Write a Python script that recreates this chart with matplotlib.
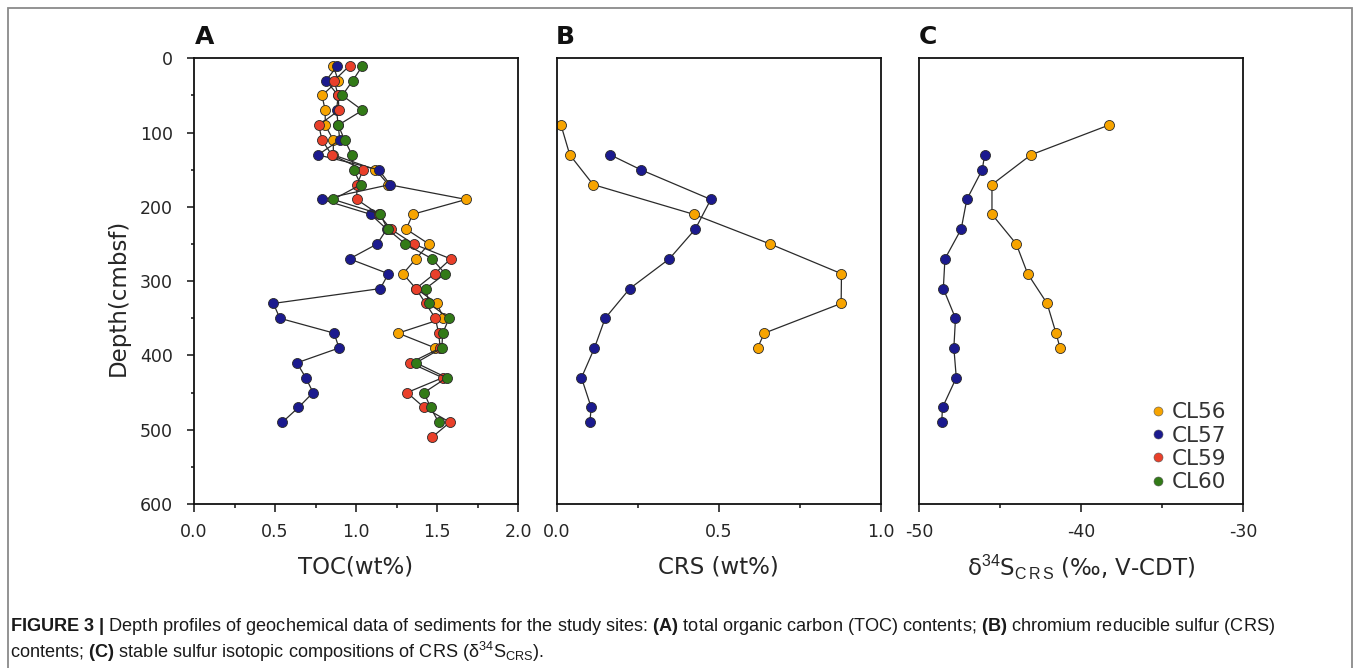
import matplotlib
matplotlib.use("Agg")
import matplotlib.pyplot as plt
from matplotlib.lines import Line2D
from matplotlib.patches import Rectangle
from matplotlib.ticker import MultipleLocator, FormatStrFormatter

plt.rcParams['font.family'] = ['DejaVu Sans']
plt.rcParams['axes.unicode_minus'] = False
plt.rcParams['mathtext.fontset'] = 'custom'
plt.rcParams['mathtext.rm'] = 'Liberation Sans'
plt.rcParams['mathtext.bf'] = 'Liberation Sans:bold'
plt.rcParams['mathtext.it'] = 'Liberation Sans:italic'

# ---------------- data ----------------
sites = ["CL56", "CL57", "CL59", "CL60"]
colors = ["#F7A400", "#1B1A8E", "#E9402A", "#327A17"]

depth_A_all = [10, 30, 50, 70, 90, 110, 130, 150, 170, 190, 210, 230, 250,
               270, 290, 310, 330, 350, 370, 390, 410, 430, 450, 470, 490, 510]

toc_CL56 = [0.86, 0.89, 0.79, 0.81, 0.81, 0.86, 0.86, 1.12, 1.20, 1.68,
            1.35, 1.31, 1.45, 1.37, 1.29, 1.37, 1.50, 1.54, 1.26, 1.49]
toc_CL57 = [0.885, 0.815, 0.89, 0.88, 0.89, 0.90, 0.765, 1.14, 1.21, 0.79,
            1.09, 1.19, 1.13, 0.96, 1.20, 1.15, 0.49, 0.53, 0.865, 0.895,
            0.635, 0.69, 0.735, 0.645, 0.545]
toc_CL59 = [0.96, 0.865, 0.89, 0.895, 0.77, 0.79, 0.85, 1.045, 1.005, 1.005,
            1.14, 1.215, 1.355, 1.585, 1.485, 1.37, 1.43, 1.49, 1.51, 1.52,
            1.335, 1.535, 1.315, 1.42, 1.58, 1.47]
toc_CL60 = [1.04, 0.98, 0.915, 1.04, 0.89, 0.93, 0.975, 0.985, 1.03, 0.86,
            1.15, 1.195, 1.305, 1.47, 1.55, 1.43, 1.45, 1.575, 1.535, 1.53,
            1.37, 1.56, 1.42, 1.46, 1.51]

depth_CL56_S = [90, 130, 170, 210, 250, 290, 330, 370, 390]
depth_CL57_S = [130, 150, 190, 230, 270, 310, 350, 390, 430, 470, 490]

crs_CL56 = [0.014, 0.041, 0.113, 0.423, 0.659, 0.879, 0.878, 0.641, 0.620]
crs_CL57 = [0.166, 0.260, 0.476, 0.428, 0.348, 0.226, 0.150, 0.117, 0.077, 0.107, 0.103]

d34_CL56 = [-38.3, -43.1, -45.5, -45.5, -44.0, -43.3, -42.1, -41.55, -41.3]
d34_CL57 = [-45.95, -46.1, -47.05, -47.4, -48.4, -48.5, -47.75, -47.85, -47.7, -48.55, -48.6]

toc_series = [toc_CL56, toc_CL57, toc_CL59, toc_CL60]

# ---------------- figure ----------------
W, H = 1354, 668
fig = plt.figure(figsize=(W / 100, H / 100), dpi=100)
TOP, BOT = 58.3, 504.0


def rect(l, r):
    return [l / W, 1 - BOT / H, (r - l) / W, (BOT - TOP) / H]


axA = fig.add_axes(rect(194, 518))
axB = fig.add_axes(rect(556.5, 880.7))
axC = fig.add_axes(rect(919, 1243.3))

line_kw = dict(color="#2a2a2a", lw=0.9, marker="o", ms=7.2,
               mec="#2a2a2a", mew=0.6)

for vals, c in zip(toc_series, colors):
    axA.plot(vals, depth_A_all[:len(vals)], mfc=c, **line_kw)

axB.plot(crs_CL56, depth_CL56_S, mfc=colors[0], **line_kw)
axB.plot(crs_CL57, depth_CL57_S, mfc=colors[1], **line_kw)
axC.plot(d34_CL56, depth_CL56_S, mfc=colors[0], **line_kw)
axC.plot(d34_CL57, depth_CL57_S, mfc=colors[1], **line_kw)

tick_color = "#262626"
for ax in (axA, axB, axC):
    ax.set_ylim(600, 0)
    for s in ax.spines.values():
        s.set_linewidth(1.3)
        s.set_color("#111111")
    ax.tick_params(axis="x", which="major", direction="out", length=6,
                   width=1.1, labelsize=12.5, pad=8, colors="#111111",
                   labelcolor=tick_color)
    ax.tick_params(axis="x", which="minor", direction="out", length=3.2,
                   width=1.1, colors="#111111")

axA.set_xlim(0, 2.0)
axA.xaxis.set_major_locator(MultipleLocator(0.5))
axA.xaxis.set_minor_locator(MultipleLocator(0.25))
axA.xaxis.set_major_formatter(FormatStrFormatter("%.1f"))
axA.yaxis.set_major_locator(MultipleLocator(100))
axA.yaxis.set_minor_locator(MultipleLocator(50))
axA.tick_params(axis="y", which="major", direction="out", length=5,
                width=1.1, labelsize=12.5, pad=10, colors="#111111",
                labelcolor=tick_color)
axA.tick_params(axis="y", which="minor", direction="out", length=2.5,
                width=1.1, colors="#111111")

axB.set_xlim(0, 1.0)
axB.xaxis.set_major_locator(MultipleLocator(0.5))
axB.xaxis.set_minor_locator(MultipleLocator(0.25))
axB.xaxis.set_major_formatter(FormatStrFormatter("%.1f"))

axC.set_xlim(-50, -30)
axC.xaxis.set_major_locator(MultipleLocator(10))
axC.xaxis.set_minor_locator(MultipleLocator(5))
axC.xaxis.set_major_formatter(FormatStrFormatter("%d"))

for ax in (axB, axC):
    ax.tick_params(axis="y", which="both", left=False, labelleft=False)

# axis labels
lab_kw = dict(fontsize=16.5, color="#262626", ha="center", va="center")
fig.text(356 / W, 1 - 567 / H, "TOC(wt%)", **lab_kw)
fig.text(718.6 / W, 1 - 567 / H, "CRS (wt%)", **lab_kw)
fig.text(1081 / W, 1 - 567 / H,
         r"δ$^{\mathrm{34}}$S$_{\mathrm{C\,R\,S}}$ (‰, V-CDT)", **lab_kw)
fig.text(118 / W, 1 - 297.5 / H, "Depth(cmbsf)", rotation=90, **lab_kw)

# panel letters
for x, lt in ((195, "A"), (556, "B"), (919, "C")):
    fig.text(x / W, 1 - 44 / H, lt, fontsize=18, fontweight="bold",
             ha="left", va="baseline", color="#111111")

# legend
handles = [Line2D([], [], ls="none", marker="o", ms=6.5, mfc=c,
                  mec="#555555", mew=0.4) for c in colors]
axC.legend(handles, sites, loc="lower right",
           bbox_to_anchor=(0.948, 0.026), frameon=False, fontsize=15.5,
           handlelength=0.6, handletextpad=0.35, labelspacing=0.16,
           borderpad=0, borderaxespad=0, labelcolor="#333333")

# caption
cap_kw = dict(fontsize=13.1, family="Liberation Sans", color="#1a1a1a",
              ha="left", va="baseline")
fig.text(10 / W, 1 - 631 / H,
         r"$\mathbf{FIGURE\ 3\ |}$ Depth profiles of geochemical data of sediments "
         r"for the study sites: $\mathbf{(A)}$ total organic carbon (TOC) contents; "
         r"$\mathbf{(B)}$ chromium reducible sulfur (CRS)", **cap_kw)
fig.text(10 / W, 1 - 658 / H,
         r"contents; $\mathbf{(C)}$ stable sulfur isotopic compositions of CRS "
         r"(δ$^{\mathrm{34}}$S$_{\mathrm{CRS}}$).", **cap_kw)

# outer frame
fig.add_artist(Rectangle((8 / W, -0.05), (1352 - 8) / W, 1 - 8 / H + 0.05,
                         transform=fig.transFigure, fill=False,
                         ec="#8a8a8a", lw=1.3, clip_on=False))

fig.savefig("out.png", dpi=100)
